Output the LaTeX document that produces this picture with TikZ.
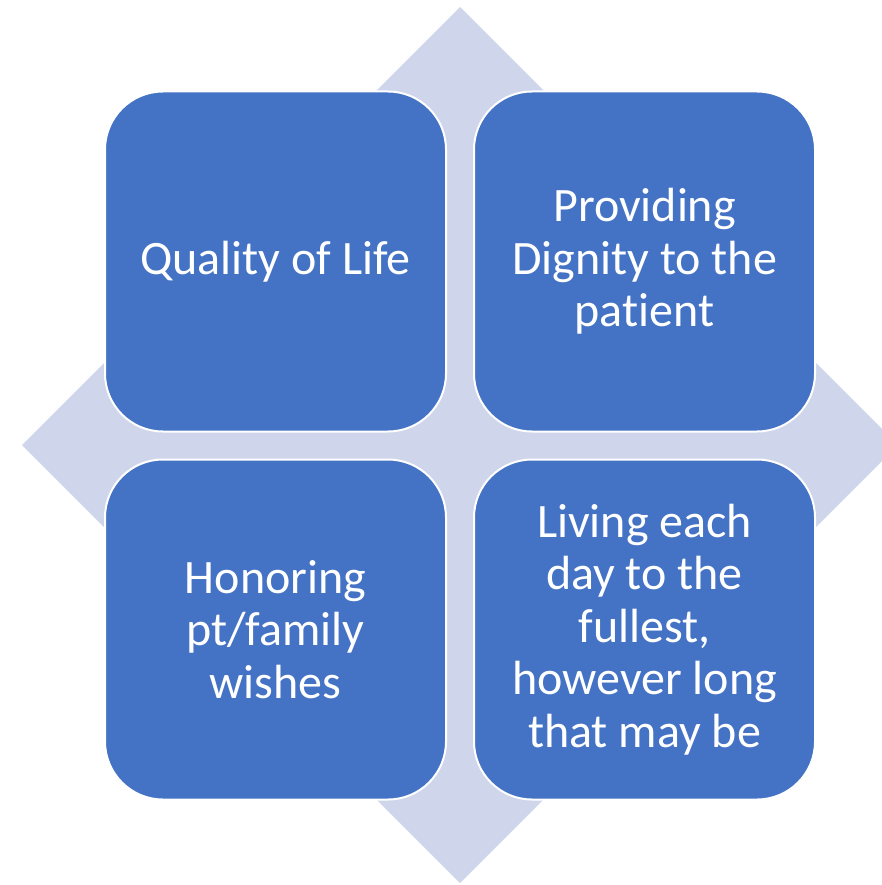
\documentclass[tikz,border=0pt]{standalone}
\usepackage{fontspec}
\setmainfont{Carlito}[Ligatures=NoCommon]
\definecolor{boxblue}{HTML}{4472C4}
\definecolor{lavender}{HTML}{CFD5EA}
\begin{document}
\begin{tikzpicture}[x=1pt,y=-1pt]
    \tikzstyle{every node}=[draw=white,line width=2pt,fill=boxblue,text=white,rounded corners=58pt,minimum width=341pt,minimum height=340pt,align=center,font=\fontsize{48}{52.5}\selectfont];
    \useasboundingbox (0,0) rectangle (882,885);
    \clip (0,0) rectangle (882,885);
    % background diamond
    \fill[lavender] (460,7) -- (898,445) -- (460,883) -- (22,445) -- cycle;

    \node at (275.5, 261.5) (q1) {Quality of Life};
    \node at (644.5, 261.5) (q2) {Providing\\Dignity to the\\patient};
    \node at (275.5, 629.5) (q3) {Honoring\\pt/family\\wishes};
    \node at (644.5, 629.5) (q4) {Living each\\day to the\\fullest,\\however long\\that may be};
\end{tikzpicture}
\end{document}
